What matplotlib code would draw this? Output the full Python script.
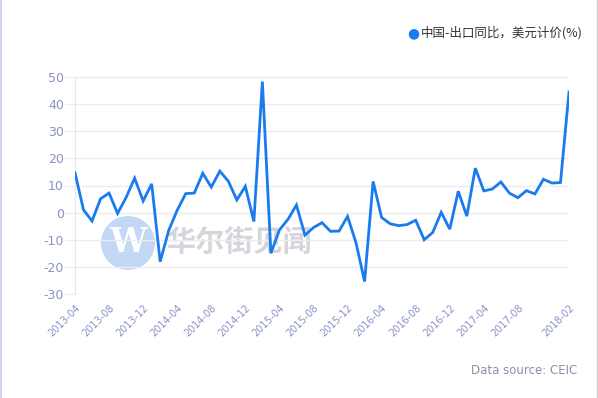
import matplotlib.pyplot as plt
from matplotlib.patches import Ellipse
from matplotlib.lines import Line2D

# monthly export growth, yoy %, 2013-04 .. 2018-02
months = []
for y in range(2013, 2019):
    for m in range(1, 13):
        if (y == 2013 and m < 4) or (y == 2018 and m > 2):
            continue
        months.append("%d-%02d" % (y, m))

export_yoy = [14.7, 1.0, -3.1, 5.1, 7.2, -0.3, 5.6, 12.7, 4.3,
              10.6, -18.1, -6.6, 0.9, 7.0, 7.2, 14.5, 9.4, 15.3, 11.6, 4.7, 9.7,
              -3.3, 48.3, -15.0, -6.4, -2.5, 2.8, -8.3, -5.5, -3.7, -6.9, -6.8, -1.4,
              -11.2, -25.4, 11.5, -1.8, -4.1, -4.8, -4.4, -2.8, -10.0, -7.3, 0.1, -6.1,
              7.9, -1.3, 16.4, 8.0, 8.7, 11.3, 7.2, 5.5, 8.1, 6.9, 12.3, 10.9,
              11.1, 44.5]

tick_idx = list(range(0, 56, 4)) + [58]
tick_labels = [months[i] for i in tick_idx]
y_ticks = [-30, -20, -10, 0, 10, 20, 30, 40, 50]

label_col = "#8a92c6"
line_col = "#1a7bef"

fig = plt.figure(figsize=(5.98, 3.98), dpi=100)
ax = fig.add_axes([75/598, 104/398, 494/598, 217/398])

# watermark
fig.patches.append(Ellipse((128/598, 155/398), 54/598, 54/398, transform=fig.transFigure,
                           facecolor="#c3d8f5", edgecolor="none", zorder=0))
fig.text(128/598, 155/398, "W", ha="center", va="center", fontsize=24,
         color="white", family="DejaVu Serif", fontweight="bold", zorder=1)
fig.text(166/598, 155/398, "华尔街见闻", ha="left", va="center", fontsize=21,
         color="#d4d6dc", family=["Noto Sans CJK SC", "DejaVu Sans"],
         fontweight="bold", zorder=1)
ax.set_facecolor("none")
ax.set_zorder(2)

x = list(range(len(export_yoy)))
ax.plot(x, export_yoy, color=line_col, lw=2.0, solid_joinstyle="miter", zorder=3)

ax.set_xlim(0, 58)
ax.set_ylim(-30, 50)
ax.set_yticks(y_ticks)
ax.set_yticklabels([str(v) for v in y_ticks], color=label_col, fontsize=9)
ax.yaxis.grid(True, color="#ebebf0", lw=1)
ax.set_axisbelow(True)
ax.tick_params(axis="y", length=7, color="#ebebf0", pad=1)

ax.set_xticks(tick_idx)
ax.set_xticklabels(tick_labels, rotation=45, ha="right", va="top",
                   rotation_mode="anchor", color=label_col, fontsize=7)
ax.tick_params(axis="x", length=0, pad=6)

for s in ["top", "right", "bottom"]:
    ax.spines[s].set_visible(False)
ax.spines["left"].set_color("#e6e6ec")

# legend
fig.text(413/598, 1 - 33/398, "●", ha="center", va="center", fontsize=10,
         color=line_col)
fig.text(421/598, 1 - 33/398, "中国-出口同比，美元计价(%)", ha="left", va="center",
         fontsize=9, color="#333333", family=["Noto Sans CJK SC", "DejaVu Sans"])

fig.text(577/598, 1 - 371/398, "Data source: CEIC", ha="right", va="center",
         fontsize=8.5, color="#8a90a8")

# frame edges
fig.add_artist(Line2D([0.5/598, 0.5/598], [0, 1], transform=fig.transFigure,
                      color="#d3d6ea", lw=1.5))
fig.add_artist(Line2D([597/598, 597/598], [0, 1], transform=fig.transFigure,
                      color="#cccccc", lw=1))

fig.savefig("out.png", dpi=100)
